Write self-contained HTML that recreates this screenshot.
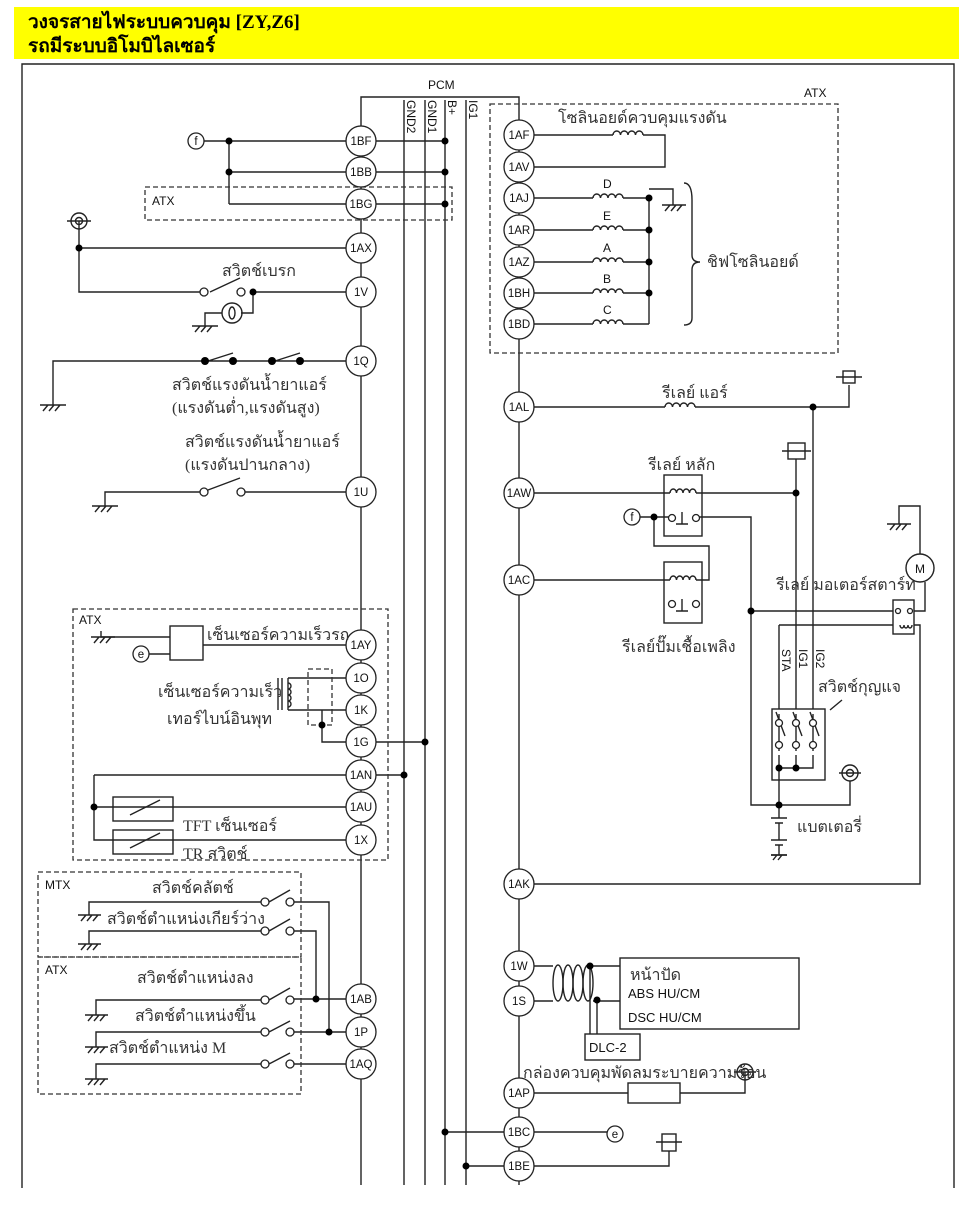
<!DOCTYPE html>
<html><head><meta charset="utf-8"><style>
html,body{margin:0;padding:0;background:#fff;}
svg{display:block}
.t{font-family:"Liberation Sans",sans-serif;font-size:12px;fill:#111}
.th{font-family:"Liberation Serif","DejaVu Serif","Noto Serif CJK SC",serif;font-size:16px;fill:#333}
.c{font-family:"Liberation Sans",sans-serif;font-size:11.5px;fill:#111;text-anchor:middle}
</style></head><body>
<svg width="980" height="1219" viewBox="0 0 980 1219" xmlns="http://www.w3.org/2000/svg">
<rect x="14" y="7" width="945" height="52" fill="#ffff00"/>
<text x="28" y="28" style="font-family:'Liberation Serif','DejaVu Serif',serif;font-size:19px;font-weight:bold;fill:#000">วงจรสายไฟระบบควบคุม [ZY,Z6]</text>
<text x="28" y="52" style="font-family:'Liberation Serif','DejaVu Serif',serif;font-size:19px;font-weight:bold;fill:#000">รถมีระบบอิโมบิไลเซอร์</text>
<g fill="none" stroke="#222" stroke-width="1.4">
<path d="M22,1188 V64 H954 V1188"/>
<path d="M361,1185 V97 H519 V1185"/>
<path d="M404,100 V1185 M425,100 V1185 M445,100 V1185 M466,100 V1185"/>
<path d="M204,141 H361 M229,141 V204 M229,172 H361 M229,204 H361 M376,141 H445 M376,172 H445 M376,204 H445"/>
<path d="M79,221 V292 H204 M79,248 H361 M210,292 L240,278 M252,292 H361 M253,292 V313 H241 M222,313 H205 V326"/>
<path d="M53,405 V361 H361 M208,361 L233,353 M275,361 L300,353"/>
<path d="M105,506 V492 H205 M208,490 L240,478 M245,492 H361"/>
<path d="M101,631 V637 H170 M148,654 H170 M203,645 H361"/>
<rect x="170" y="626" width="33" height="34"/>
<path d="M288,678 H346 M288,710 H346 M288,678 V710 M322,710 V742 H361 M376,742 H425 M376,775 H404 M94,775 H346 M94,775 V840 H346 M94,807 H346"/>
<rect x="113" y="797" width="60" height="24"/>
<rect x="113" y="830" width="60" height="24"/>
<path d="M130,815 L160,800 M130,848 L160,833"/>
<path d="M278,678 V710 M282,678 V710"/>
<path d="M89,915 V902 H262 M269,902 L290,890 M293,902 H329 V1032 M89,944 V931 H262 M269,931 L290,919 M293,931 H316 V999"/>
<path d="M96,1015 V1000 H262 M269,1000 L290,988 M293,999 H346 M96,1047 V1032 H262 M269,1032 L290,1021 M293,1032 H346 M96,1079 V1064 H262 M269,1064 L290,1053 M293,1064 H346"/>
<path d="M534,135 H613 M643,135 H665 V167 H534"/>
<path d="M534,198 H593 M623,198 H649 M534,230 H593 M623,230 H649 M534,262 H593 M623,262 H649 M534,293 H593 M623,293 H649 M534,324 H593 M623,324 H649 M649,198 V324 M649,189 H673 V205"/>
<path d="M684,183 Q692,183 692,200 V255 Q692,262 700,262 Q692,262 692,270 V318 Q692,325 684,325"/>
<path d="M534,407 H665 M695,407 H849 V385 M813,407 V709"/>
<rect x="843" y="371" width="12" height="12"/><path d="M836,377 H862"/>
<rect x="664" y="475" width="38" height="61"/>
<rect x="664" y="562" width="38" height="61"/>
<path d="M534,493 H670 M696,493 H796 M796,459 V709 M534,580 H670 M696,580 H709 V546 H654 V517"/>
<rect x="788" y="443" width="17" height="16"/><path d="M782,451 H811"/>
<path d="M640,517 H670 M698,517 H751 V805 H850 V781 M682,524 V512 M676,524 H688 M682,611 V599 M676,611 H688"/>
<path d="M751,611 H893 M779,625 V709 M779,625 H893 M914,625 H920 V884 H534 M914,611 H925 V582 M920,554 V506 H899 V524"/>
<rect x="893" y="600" width="21" height="34"/>
<rect x="772" y="709" width="53" height="71"/>
<path d="M779,714 V751 M796,714 V751 M813,714 V751 M779,755 V805 M779,768 H813 V755 M796,755 V768 M830,710 L842,700"/>
<path d="M776,712 L785,736 M793,712 L802,736 M810,712 L819,736"/>
<path d="M779,805 V818 M771,818 H787 M775,823 H783 M771,840 H787 M775,845 H783 M779,845 V855 M771,855 H787 M779,823 V840"/>
<circle cx="850" cy="773" r="8"/><circle cx="850" cy="773" r="3.5"/><path d="M839,773 H861"/>
<path d="M534,966 H553 M593,966 H620 M534,1001 H553 M593,1001 H620 M590,966 V1034 M597,1000 V1034"/>
<rect x="620" y="958" width="179" height="71"/>
<rect x="585" y="1034" width="55" height="26"/>
<path d="M534,1093 H628 M680,1093 H745 V1072"/>
<rect x="628" y="1083" width="52" height="20"/>
<circle cx="745" cy="1072" r="8"/><circle cx="745" cy="1072" r="3.5"/><path d="M734,1072 H756"/>
<path d="M445,1132 H607 M466,1166 H669 V1151"/>
<rect x="662" y="1134" width="14" height="17"/><path d="M656,1142 H682"/>
<circle cx="79" cy="221" r="8"/><circle cx="79" cy="221" r="3.5"/><path d="M67,221 H91"/>
<circle cx="232" cy="313" r="10"/><ellipse cx="232" cy="313" rx="3" ry="6"/>
<circle cx="920" cy="568" r="14"/>
<path d="M613,135 a3.75,4 0 1 1 7.5,0 a3.75,4 0 1 1 7.5,0 a3.75,4 0 1 1 7.5,0 a3.75,4 0 1 1 7.5,0"/>
<path d="M593,198 a3.75,4 0 1 1 7.5,0 a3.75,4 0 1 1 7.5,0 a3.75,4 0 1 1 7.5,0 a3.75,4 0 1 1 7.5,0"/>
<path d="M593,230 a3.75,4 0 1 1 7.5,0 a3.75,4 0 1 1 7.5,0 a3.75,4 0 1 1 7.5,0 a3.75,4 0 1 1 7.5,0"/>
<path d="M593,262 a3.75,4 0 1 1 7.5,0 a3.75,4 0 1 1 7.5,0 a3.75,4 0 1 1 7.5,0 a3.75,4 0 1 1 7.5,0"/>
<path d="M593,293 a3.75,4 0 1 1 7.5,0 a3.75,4 0 1 1 7.5,0 a3.75,4 0 1 1 7.5,0 a3.75,4 0 1 1 7.5,0"/>
<path d="M593,324 a3.75,4 0 1 1 7.5,0 a3.75,4 0 1 1 7.5,0 a3.75,4 0 1 1 7.5,0 a3.75,4 0 1 1 7.5,0"/>
<path d="M665,407 a3.75,4 0 1 1 7.5,0 a3.75,4 0 1 1 7.5,0 a3.75,4 0 1 1 7.5,0 a3.75,4 0 1 1 7.5,0"/>
<path d="M670,493 a3.25,4 0 1 1 6.5,0 a3.25,4 0 1 1 6.5,0 a3.25,4 0 1 1 6.5,0 a3.25,4 0 1 1 6.5,0"/>
<path d="M670,580 a3.25,4 0 1 1 6.5,0 a3.25,4 0 1 1 6.5,0 a3.25,4 0 1 1 6.5,0 a3.25,4 0 1 1 6.5,0"/>
<path d="M900,625 a2,3 0 1 0 4,0 a2,3 0 1 0 4,0 a2,3 0 1 0 4,0"/>
<ellipse cx="558" cy="983" rx="5" ry="18"/><ellipse cx="568" cy="983" rx="5" ry="18"/><ellipse cx="578" cy="983" rx="5" ry="18"/><ellipse cx="588" cy="983" rx="5" ry="18"/>
<path d="M288,675 a3,3 0 1 1 0,6 a3,3 0 1 1 0,6 a3,3 0 1 1 0,6 a3,3 0 1 1 0,6" transform="translate(0,8)"/>
</g>
<g fill="none" stroke="#333" stroke-width="1.3" stroke-dasharray="5,3">
<rect x="145" y="187" width="307" height="33"/>
<rect x="490" y="104" width="348" height="249"/>
<rect x="73" y="609" width="315" height="251"/>
<rect x="38" y="872" width="263" height="85"/>
<rect x="38" y="957" width="263" height="137"/>
<rect x="308" y="669" width="24" height="56"/>
</g>
<g stroke="#222" stroke-width="1.4" fill="none">
<path d="M40,405 H66 M43,411 L48,405 M49,411 L54,405 M55,411 L60,405"/>
<path d="M192,326 H218 M195,332 L200,326 M201,332 L206,326 M207,332 L212,326"/>
<path d="M92,506 H118 M95,512 L100,506 M101,512 L106,506 M107,512 L112,506"/>
<path d="M91,637 H115 M94,643 L99,637 M100,643 L105,637 M106,643 L111,637"/>
<path d="M78,915 H101 M81,921 L86,915 M87,921 L92,915 M93,921 L98,915"/>
<path d="M78,944 H101 M81,950 L86,944 M87,950 L92,944 M93,950 L98,944"/>
<path d="M85,1015 H108 M88,1021 L93,1015 M94,1021 L99,1015 M100,1021 L105,1015"/>
<path d="M85,1047 H108 M88,1053 L93,1047 M94,1053 L99,1047 M100,1053 L105,1047"/>
<path d="M85,1079 H108 M88,1085 L93,1079 M94,1085 L99,1079 M100,1085 L105,1079"/>
<path d="M662,205 H686 M665,211 L670,205 M671,211 L676,205 M677,211 L682,205"/>
<path d="M887,524 H911 M890,530 L895,524 M896,530 L901,524 M902,530 L907,524"/>
<path d="M771,855 H787 M773,860 L777,855 M778,860 L782,855"/>
</g>
<g fill="#fff" stroke="#222" stroke-width="1.3">
<circle cx="204" cy="292" r="4"/><circle cx="241" cy="292" r="4"/>
<circle cx="204" cy="492" r="4"/><circle cx="241" cy="492" r="4"/>
<circle cx="265" cy="902" r="4"/><circle cx="290" cy="902" r="4"/>
<circle cx="265" cy="931" r="4"/><circle cx="290" cy="931" r="4"/>
<circle cx="265" cy="1000" r="4"/><circle cx="290" cy="1000" r="4"/>
<circle cx="265" cy="1032" r="4"/><circle cx="290" cy="1032" r="4"/>
<circle cx="265" cy="1064" r="4"/><circle cx="290" cy="1064" r="4"/>
<circle cx="672" cy="518" r="3.5"/><circle cx="696" cy="518" r="3.5"/>
<circle cx="672" cy="604" r="3.5"/><circle cx="696" cy="604" r="3.5"/>
<circle cx="779" cy="723" r="3.5"/><circle cx="796" cy="723" r="3.5"/><circle cx="813" cy="723" r="3.5"/>
<circle cx="779" cy="745" r="3.5"/><circle cx="796" cy="745" r="3.5"/><circle cx="813" cy="745" r="3.5"/>
<circle cx="898" cy="611" r="2.5"/><circle cx="910" cy="611" r="2.5"/>
<circle cx="196" cy="141" r="8"/><circle cx="632" cy="517" r="8"/>
<circle cx="141" cy="654" r="8"/><circle cx="615" cy="1134" r="8"/>
</g>
<g class="c"><text x="196" y="145">f</text><text x="632" y="521">f</text><text x="141" y="658">e</text><text x="615" y="1138">e</text><text x="920" y="573" style="font-size:12px">M</text></g>
<g fill="#000">
<circle cx="229" cy="141" r="3.5"/><circle cx="229" cy="172" r="3.5"/>
<circle cx="445" cy="141" r="3.5"/><circle cx="445" cy="172" r="3.5"/><circle cx="445" cy="204" r="3.5"/>
<circle cx="79" cy="248" r="3.5"/><circle cx="253" cy="292" r="3.5"/>
<circle cx="205" cy="361" r="4"/><circle cx="233" cy="361" r="4"/><circle cx="272" cy="361" r="4"/><circle cx="300" cy="361" r="4"/>
<circle cx="322" cy="725" r="3.5"/><circle cx="425" cy="742" r="3.5"/><circle cx="404" cy="775" r="3.5"/><circle cx="94" cy="807" r="3.5"/>
<circle cx="316" cy="999" r="3.5"/><circle cx="329" cy="1032" r="3.5"/>
<circle cx="649" cy="198" r="3.5"/><circle cx="649" cy="230" r="3.5"/><circle cx="649" cy="262" r="3.5"/><circle cx="649" cy="293" r="3.5"/>
<circle cx="813" cy="407" r="3.5"/><circle cx="796" cy="493" r="3.5"/><circle cx="654" cy="517" r="3.5"/><circle cx="751" cy="611" r="3.5"/>
<circle cx="779" cy="768" r="3.5"/><circle cx="796" cy="768" r="3.5"/><circle cx="779" cy="805" r="3.5"/>
<circle cx="590" cy="966" r="3.5"/><circle cx="597" cy="1000" r="3.5"/>
<circle cx="445" cy="1132" r="3.5"/><circle cx="466" cy="1166" r="3.5"/>
</g>
<g fill="#fff" stroke="#222" stroke-width="1.3">
<circle cx="361" cy="141" r="15"/><circle cx="361" cy="172" r="15"/><circle cx="361" cy="204" r="15"/><circle cx="361" cy="248" r="15"/><circle cx="361" cy="292" r="15"/><circle cx="361" cy="361" r="15"/><circle cx="361" cy="492" r="15"/>
<circle cx="361" cy="645" r="15"/><circle cx="361" cy="678" r="15"/><circle cx="361" cy="710" r="15"/><circle cx="361" cy="742" r="15"/><circle cx="361" cy="775" r="15"/><circle cx="361" cy="807" r="15"/><circle cx="361" cy="840" r="15"/>
<circle cx="361" cy="999" r="15"/><circle cx="361" cy="1032" r="15"/><circle cx="361" cy="1064" r="15"/>
<circle cx="519" cy="135" r="15"/><circle cx="519" cy="167" r="15"/><circle cx="519" cy="198" r="15"/><circle cx="519" cy="230" r="15"/><circle cx="519" cy="262" r="15"/><circle cx="519" cy="293" r="15"/><circle cx="519" cy="324" r="15"/>
<circle cx="519" cy="407" r="15"/><circle cx="519" cy="493" r="15"/><circle cx="519" cy="580" r="15"/><circle cx="519" cy="884" r="15"/>
<circle cx="519" cy="966" r="15"/><circle cx="519" cy="1001" r="15"/><circle cx="519" cy="1093" r="15"/><circle cx="519" cy="1132" r="15"/><circle cx="519" cy="1166" r="15"/>
</g>
<g class="c">
<text x="361" y="145">1BF</text><text x="361" y="176">1BB</text><text x="361" y="208">1BG</text><text x="361" y="252">1AX</text><text x="361" y="296">1V</text><text x="361" y="365">1Q</text><text x="361" y="496">1U</text>
<text x="361" y="649">1AY</text><text x="361" y="682">1O</text><text x="361" y="714">1K</text><text x="361" y="746">1G</text><text x="361" y="779">1AN</text><text x="361" y="811">1AU</text><text x="361" y="844">1X</text>
<text x="361" y="1003">1AB</text><text x="361" y="1036">1P</text><text x="361" y="1068">1AQ</text>
<text x="519" y="139">1AF</text><text x="519" y="171">1AV</text><text x="519" y="202">1AJ</text><text x="519" y="234">1AR</text><text x="519" y="266">1AZ</text><text x="519" y="297">1BH</text><text x="519" y="328">1BD</text>
<text x="519" y="411">1AL</text><text x="519" y="497">1AW</text><text x="519" y="584">1AC</text><text x="519" y="888">1AK</text>
<text x="519" y="970">1W</text><text x="519" y="1005">1S</text><text x="519" y="1097">1AP</text><text x="519" y="1136">1BC</text><text x="519" y="1170">1BE</text>
</g>
<g class="t">
<text x="428" y="89">PCM</text>
<text transform="translate(407,100) rotate(90)">GND2</text>
<text transform="translate(428,100) rotate(90)">GND1</text>
<text transform="translate(448,100) rotate(90)">B+</text>
<text transform="translate(469,100) rotate(90)">IG1</text>
<text x="152" y="205">ATX</text>
<text x="804" y="97">ATX</text>
<text x="79" y="624">ATX</text>
<text x="45" y="889">MTX</text>
<text x="45" y="974">ATX</text>
<text x="603" y="188">D</text><text x="603" y="220">E</text><text x="603" y="252">A</text><text x="603" y="283">B</text><text x="603" y="314">C</text>
<text transform="translate(782,649) rotate(90)">STA</text>
<text transform="translate(799,649) rotate(90)">IG1</text>
<text transform="translate(816,649) rotate(90)">IG2</text>
<text x="628" y="998" style="font-size:13px">ABS HU/CM</text>
<text x="628" y="1022" style="font-size:13px">DSC HU/CM</text>
<text x="589" y="1052" style="font-size:13px">DLC-2</text>
</g>
<g class="th">
<text x="222" y="276">สวิตช์เบรก</text>
<text x="172" y="390">สวิตช์แรงดันน้ำยาแอร์</text>
<text x="172" y="413">(แรงดันต่ำ,แรงดันสูง)</text>
<text x="185" y="447">สวิตช์แรงดันน้ำยาแอร์</text>
<text x="185" y="470">(แรงดันปานกลาง)</text>
<text x="207" y="640">เซ็นเซอร์ความเร็วรถ</text>
<text x="158" y="697">เซ็นเซอร์ความเร็ว</text>
<text x="167" y="724">เทอร์ไบน์อินพุท</text>
<text x="183" y="831">TFT เซ็นเซอร์</text>
<text x="183" y="859">TR สวิตช์</text>
<text x="152" y="893">สวิตช์คลัตช์</text>
<text x="107" y="924">สวิตช์ตำแหน่งเกียร์ว่าง</text>
<text x="137" y="983">สวิตช์ตำแหน่งลง</text>
<text x="135" y="1021">สวิตช์ตำแหน่งขึ้น</text>
<text x="109" y="1053">สวิตช์ตำแหน่ง M</text>
<text x="558" y="123">โซลินอยด์ควบคุมแรงดัน</text>
<text x="707" y="267">ชิฟโซลินอยด์</text>
<text x="662" y="398">รีเลย์ แอร์</text>
<text x="648" y="470">รีเลย์ หลัก</text>
<text x="622" y="652">รีเลย์ปั๊มเชื้อเพลิง</text>
<text x="776" y="590">รีเลย์ มอเตอร์สตาร์ท</text>
<text x="818" y="692">สวิตช์กุญแจ</text>
<text x="797" y="832">แบตเตอรี่</text>
<text x="630" y="980">หน้าปัด</text>
<text x="523" y="1078">กล่องควบคุมพัดลมระบายความร้อน</text>
</g>
</svg>
</body></html>
